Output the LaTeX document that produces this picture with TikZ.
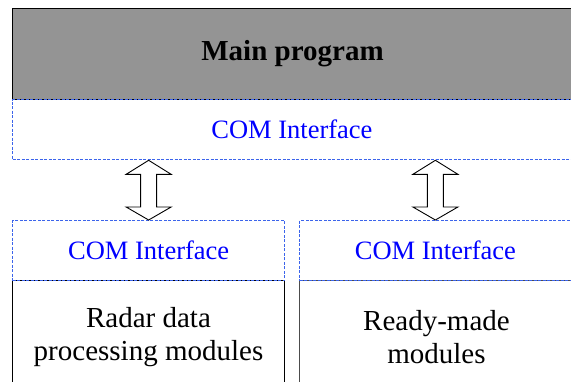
\documentclass[tikz,border=0pt]{standalone}
\usepackage{fontspec}
\setmainfont{Liberation Serif}
\usetikzlibrary{calc}
\definecolor{dashblue}{RGB}{60,100,235}
\definecolor{maingray}{RGB}{148,148,148}
\begin{document}
\begin{tikzpicture}[x=1pt,y=-1pt,
  box/.style={draw, line width=1pt, inner sep=0pt, anchor=north west},
  combox/.style={draw=dashblue, dash pattern=on 3pt off 1.5pt, line width=1.3pt, inner sep=0pt,
    anchor=north west, text=blue, font=\fontsize{26.5}{30}\selectfont},
  modtext/.style={align=center, font=\fontsize{29}{33}\selectfont},
  dblarrow/.style={draw, line width=0.9pt, fill=white}]
\useasboundingbox (0,0) rectangle (571,381);
\clip (0,0) rectangle (571,381);
\fill[white] (0,0) rectangle (571,381);
% main program
\node[box, fill=maingray, minimum width=560pt, minimum height=91pt,
  font=\bfseries\fontsize{29}{32}\selectfont] (main) at (12,8) {Main program};
\node[combox, minimum width=558.5pt, minimum height=60pt] (comtop) at (12,99) {COM Interface};
% module boxes
\node[box, modtext, minimum width=272pt, minimum height=114pt] (modL) at (12,280) {Radar data\\processing modules};
\node[box, draw=black!70, modtext, minimum width=274pt, minimum height=114pt] (modR) at (299,280) {Ready-made\\modules};
% lower COM boxes
\node[combox, minimum width=272pt, minimum height=60pt] (comL) at (12,220) {COM Interface};
\node[combox, minimum width=271.5pt, minimum height=60pt] (comR) at (299,220) {COM Interface};
% double arrows
\coordinate (aLt) at (comtop.south -| comL.north);
\coordinate (aLb) at (comL.north);
\coordinate (aRt) at (comtop.south -| comR.north);
\coordinate (aRb) at (comR.north);
\draw[dblarrow] (aLt) -- ++(22.5,14) -- ++(-14.5,0) -- ($(aLb)+(8,-13)$) -- ++(14.5,0) -- (aLb)
  -- ++(-22.5,-13) -- ++(14.5,0) -- ($(aLt)+(-8,14)$) -- ++(-14.5,0) -- cycle;
\draw[dblarrow] (aRt) -- ++(22.5,14) -- ++(-14.5,0) -- ($(aRb)+(8,-13)$) -- ++(14.5,0) -- (aRb)
  -- ++(-22.5,-13) -- ++(14.5,0) -- ($(aRt)+(-8,14)$) -- ++(-14.5,0) -- cycle;
\end{tikzpicture}
\end{document}
